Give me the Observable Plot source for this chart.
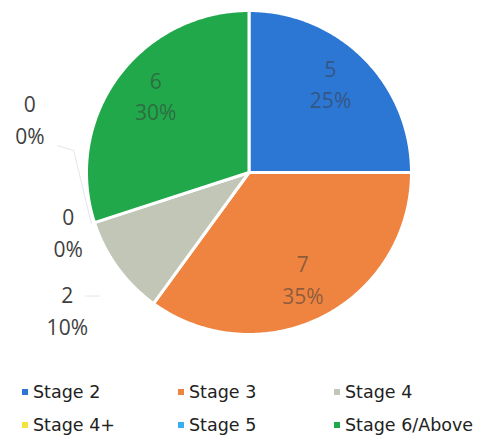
<!DOCTYPE html>
<html>
<head>
<meta charset="utf-8">
<script src="https://cdn.jsdelivr.net/npm/d3@7"></script>
<script src="https://cdn.jsdelivr.net/npm/@observablehq/plot@0.6"></script>
<style>
  html, body { margin: 0; padding: 0; background: #fff; }
  #chart svg { display: block; }
  #legend {
    display: grid;
    grid-template-columns: 156px 156px 160px;
    grid-auto-rows: 33px;
    padding-left: 22px;
    padding-top: 5px;
    font-family: "DejaVu Sans", sans-serif;
    font-size: 17.5px;
    color: #222;
  }
  #legend .item { display: flex; align-items: center; white-space: nowrap; }
  #legend .sw { width: 6px; height: 6px; margin-right: 5px; flex: none; }
</style>
</head>
<body>
<div id="chart"></div>
<div id="legend"></div>
<script>
// ---- data ----
const stages = ["Stage 2", "Stage 3", "Stage 4", "Stage 4+", "Stage 5", "Stage 6/Above"];
const counts = [5, 7, 2, 0, 0, 6];
const colors = ["#2d77d4", "#ef8441", "#c2c6b7", "#f3e33f", "#36aef0", "#20a84b"];

// ---- build pie geometry from the data ----
const data = stages.map((s, i) => ({stage: s, count: counts[i]}));
const total = d3.sum(counts);
const arcs = d3.pie().sort(null).value(d => d.count)(data);
const pt = (a, r) => ({x: Math.sin(a) * r, y: Math.cos(a) * r});

const slicePts = [];
arcs.forEach(a => {
  if (a.data.count <= 0) return;
  slicePts.push({stage: a.data.stage, ...pt(a.startAngle, 0)});
  const n = Math.max(2, Math.ceil((a.endAngle - a.startAngle) / 0.01));
  for (let k = 0; k <= n; k++) {
    const ang = a.startAngle + (a.endAngle - a.startAngle) * k / n;
    slicePts.push({stage: a.data.stage, ...pt(ang, 1)});
  }
});

// label layout: inside for large slices, outside for small ones
const deg = Math.PI / 180;
const outside = {"Stage 4": {r: 1.4, da: -1}, "Stage 4+": {r: 1.17, da: 0}, "Stage 5": {r: 1.39, da: 32}};
const inside = {"Stage 2": {r: 0.75, da: -3}, "Stage 3": {r: 0.73, da: 0}, "Stage 6/Above": {r: 0.75, da: 4}};
const labels = arcs.map(a => {
  const mid = (a.startAngle + a.endAngle) / 2;
  const o = outside[a.data.stage];
  const ins = inside[a.data.stage] || {r: 0.73, da: 0};
  const p = o ? pt(mid + o.da * deg, o.r) : pt(mid + ins.da * deg, ins.r);
  const pct = Math.round(a.data.count / total * 100);
  return {stage: a.data.stage, inside: !o, text: `${a.data.count}\n${pct}%`, ...p, mid};
});

// faint leader lines for outside labels
const leaders = [];
labels.filter(l => !l.inside).forEach(l => {
  if (l.stage === "Stage 5") {
    leaders.push({id: l.stage, x: l.x + 0.17, y: l.y - 0.17});
    leaders.push({id: l.stage, x: l.x + 0.27, y: l.y - 0.2});
    leaders.push({id: l.stage, ...pt(l.mid, 1.02)});
  } else if (l.stage === "Stage 4") {
    leaders.push({id: l.stage, x: l.x + 0.11, y: l.y + 0.08});
    leaders.push({id: l.stage, x: l.x + 0.2, y: l.y + 0.08});
  }
});

const chart = Plot.plot({
  width: 483,
  height: 370,
  margin: 0,
  x: {domain: [-1, 1], range: [86, 411], axis: null},
  y: {domain: [-1, 1], range: [334, 10], axis: null},
  color: {type: "ordinal", domain: stages, range: colors},
  marks: [
    Plot.line(leaders, {x: "x", y: "y", z: "id", stroke: "#e6e6e6", strokeWidth: 1}),
    Plot.line(slicePts, {x: "x", y: "y", z: "stage", fill: "stage", stroke: "white", strokeWidth: 3, curve: "linear-closed", strokeLinejoin: "round"}),
    Plot.text(labels.filter(d => d.inside), {x: "x", y: "y", text: "text", fill: "#3a3a3a", fillOpacity: 0.55, fontSize: 21, lineHeight: 1.5, fontFamily: "'Open Sans', sans-serif"}),
    Plot.text(labels.filter(d => !d.inside), {x: "x", y: "y", text: "text", fill: "#404040", fontSize: 21, lineHeight: 1.5, fontFamily: "'Open Sans', sans-serif"})
  ]
});
document.getElementById("chart").appendChild(chart);

// legend
const legend = document.getElementById("legend");
stages.forEach((s, i) => {
  const item = document.createElement("div");
  item.className = "item";
  const sw = document.createElement("span");
  sw.className = "sw";
  sw.style.background = colors[i];
  const t = document.createElement("span");
  t.textContent = s;
  item.appendChild(sw);
  item.appendChild(t);
  legend.appendChild(item);
});
</script>
</body>
</html>
